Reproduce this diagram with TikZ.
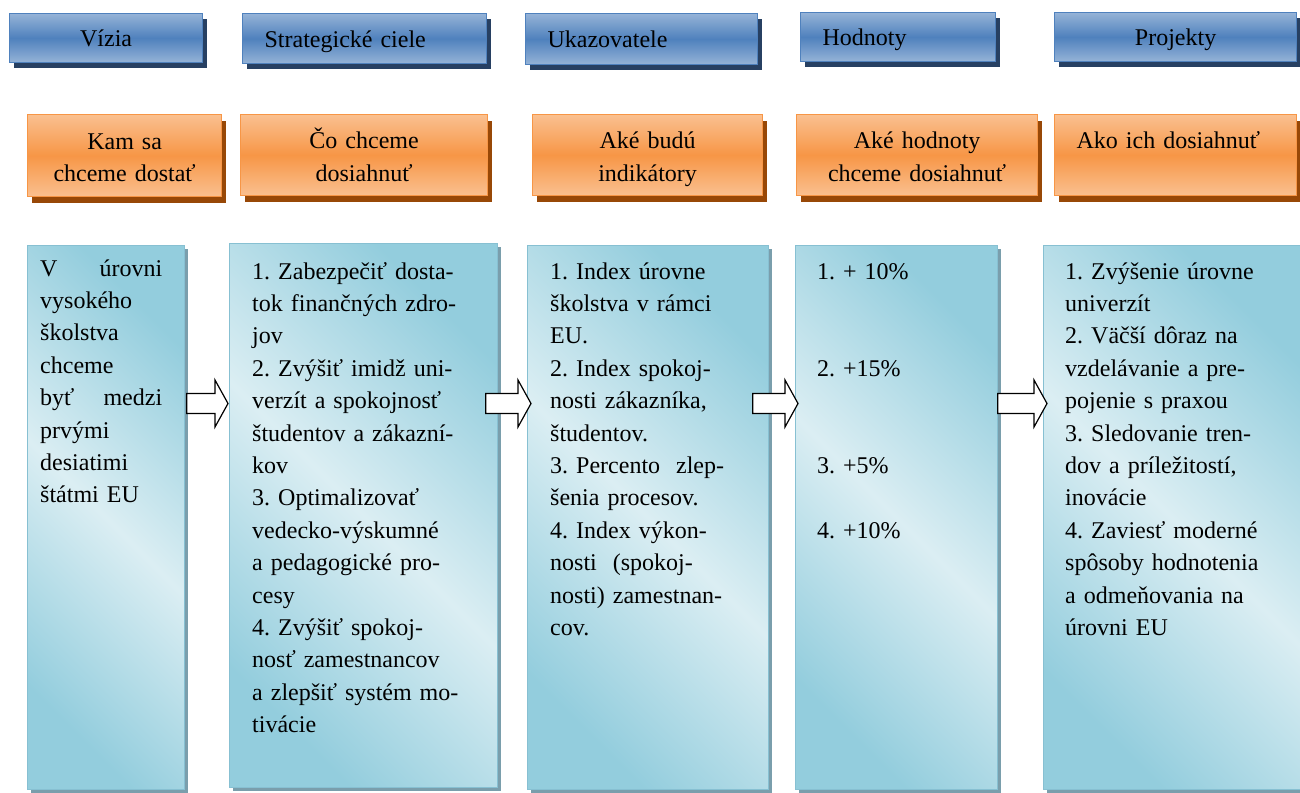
\documentclass[tikz,border=0pt]{standalone}
\usepackage{fontspec}
\setmainfont{Liberation Serif}
\usetikzlibrary{calc, shadows}
\setlength{\parindent}{0pt}
\frenchspacing

\definecolor{HdrLight}{RGB}{149,179,215}
\definecolor{HdrMid}{RGB}{79,129,189}
\definecolor{HdrShadow}{RGB}{39,64,98}
\definecolor{OrLight}{RGB}{250,192,144}
\definecolor{OrMid}{RGB}{247,150,70}
\definecolor{OrShadow}{RGB}{152,72,7}
\definecolor{AqDark}{RGB}{147,205,221}
\definecolor{AqLight}{RGB}{219,238,243}
\definecolor{AqEdge}{RGB}{135,192,210}
\definecolor{AqShadow}{RGB}{122,158,172}

\tikzset{
	hdr/.style={anchor=north west, draw=HdrMid, line width=1.2pt,
		top color=HdrLight, bottom color=HdrLight, middle color=HdrMid,
		inner xsep=22pt, inner ysep=0pt, text height=21pt, text depth=4pt,
		drop shadow={shadow xshift=4pt, shadow yshift=-5pt, fill=HdrShadow, opacity=1}},
	ask/.style={anchor=north west, draw=OrMid, line width=1.2pt,
		top color=OrLight, bottom color=OrLight, middle color=OrMid,
		inner xsep=22pt, inner ysep=0pt, minimum height=81pt,
		text height=20pt, text depth=33pt,
		drop shadow={shadow xshift=4pt, shadow yshift=-6pt, fill=OrShadow, opacity=1}},
	cell/.style={anchor=north west, draw=AqEdge, line width=0.8pt,
		top color=AqDark, bottom color=AqDark, middle color=AqLight, shading angle=-45,
		minimum height=544pt,
		drop shadow={shadow xshift=4pt, shadow yshift=-4pt, fill=AqShadow, opacity=1}},
	body/.style={anchor=base west, inner sep=0pt, align=left},
	hollow/.style={draw=black, fill=white, line width=1.2pt,
		to path={let \p1=(\tikztostart), \p2=(\tikztotarget) in
			(\x1,\y1+10pt) -- (\x2-13pt,\y1+10pt) -- (\x2-13pt,\y1+23.5pt) -- (\x2,\y1)
			-- (\x2-13pt,\y1-23.5pt) -- (\x2-13pt,\y1-10pt) -- (\x1,\y1-10pt) -- cycle}}
}

\begin{document}
\begin{tikzpicture}[x=1pt, y=-1pt, font=\fontsize{24}{32.4}\selectfont]
	\useasboundingbox (0,0) rectangle (1300,792);
	% horny rad
	\node[hdr, minimum width=193pt, minimum height=49pt, text width=149pt, align=center] (h1) at (9,13) {Vízia};
	\node[hdr, minimum width=244pt, minimum height=50pt, text width=200pt, align=left] (h2) at (242,13) {Strategické ciele};
	\node[hdr, minimum width=232pt, minimum height=51pt, text width=188pt, align=left] (h3) at (525,13) {Ukazovatele};
	\node[hdr, minimum width=195pt, minimum height=49pt, text width=151pt, align=left] (h4) at (800,12) {Hodnoty};
	\node[hdr, minimum width=242pt, minimum height=49pt, text width=198pt, align=center] (h5) at (1054,12) {Projekty};
	% otazky
	\node[ask, minimum width=194pt, minimum height=82pt, text width=150pt, align=center] (o1) at (27,114) {Kam sa\\ chceme dostať};
	\node[ask, minimum width=247pt, text width=203pt, align=center] (o2) at (240,114) {Čo chceme\\ dosiahnuť};
	\node[ask, minimum width=230pt, text width=186pt, align=center] (o3) at (532,114) {Aké budú\\ indikátory};
	\node[ask, minimum width=241pt, text width=197pt, align=center] (o4) at (796,114) {Aké hodnoty\\ chceme dosiahnuť};
	\node[ask, minimum width=242pt, text width=198pt, align=left] (o5) at (1054,114) {Ako ich dosiahnuť};
	% stlpce
	\foreach \n/\x/\y/\w in {v1/27/245/157, v2/229/243/268, v3/527/245/241, v4/795/245/202, v5/1043/245/257}
		\node[cell, minimum width=\w pt] (\n) at (\x,\y) {};
	\node[body, text width=122pt] (t1) at ($(v1.north west)+(13,31)$)
		{V\hfill úrovni\\ vysokého\\ školstva\\ chceme\\ byť\hfill medzi\\ prvými\\ desiatimi\\ štátmi EU};
	\node[body, text width=225pt] (t2) at ($(v2.north west)+(23,36)$)
		{1. Zabezpečiť dosta-\\ tok finančných zdro-\\ jov\\ 2. Zvýšiť imidž uni-\\ verzít a spokojnosť\\
		 študentov a zákazní-\\ kov\\ 3. Optimalizovať\\ vedecko-výskumné\\ a pedagogické pro-\\ cesy\\
		 4. Zvýšiť spokoj-\\ nosť zamestnancov\\ a zlepšiť systém mo-\\ tivácie};
	\node[body, text width=210pt] (t3) at ($(v3.north west)+(23,34)$)
		{1. Index úrovne\\ školstva v rámci\\ EU.\\ 2. Index spokoj-\\ nosti zákazníka,\\ študentov.\\
		 3. Percento\ \ zlep-\\ šenia procesov.\\ 4. Index výkon-\\ nosti\ \ (spokoj-\\ nosti) zamestnan-\\ cov.};
	\node[body, text width=150pt] (t4) at ($(v4.north west)+(22,34)$)
		{1. + 10\%\\[64.8pt] 2. +15\%\\[64.8pt] 3. +5\%\\[32.4pt] 4. +10\%};
	\node[body, text width=225pt] (t5) at ($(v5.north west)+(22,34)$)
		{1. Zvýšenie úrovne\\ univerzít\\ 2. Väčší dôraz na\\ vzdelávanie a pre-\\ pojenie s praxou\\
		 3. Sledovanie tren-\\ dov a príležitostí,\\ inovácie\\ 4. Zaviesť moderné\\ spôsoby hodnotenia\\
		 a odmeňovania na\\ úrovni EU};
	% sipky
	\coordinate (ar) at (0,403.5);
	\foreach \a/\b/\s/\e in {v1/v2/2/-1, v2/v3/-12/4, v3/v4/-16/3, v4/v5/0/4}
		\draw[hollow] ($(\a.east |- ar)+(\s,0)$) to ($(\b.west |- ar)+(\e,0)$);
\end{tikzpicture}
\end{document}
